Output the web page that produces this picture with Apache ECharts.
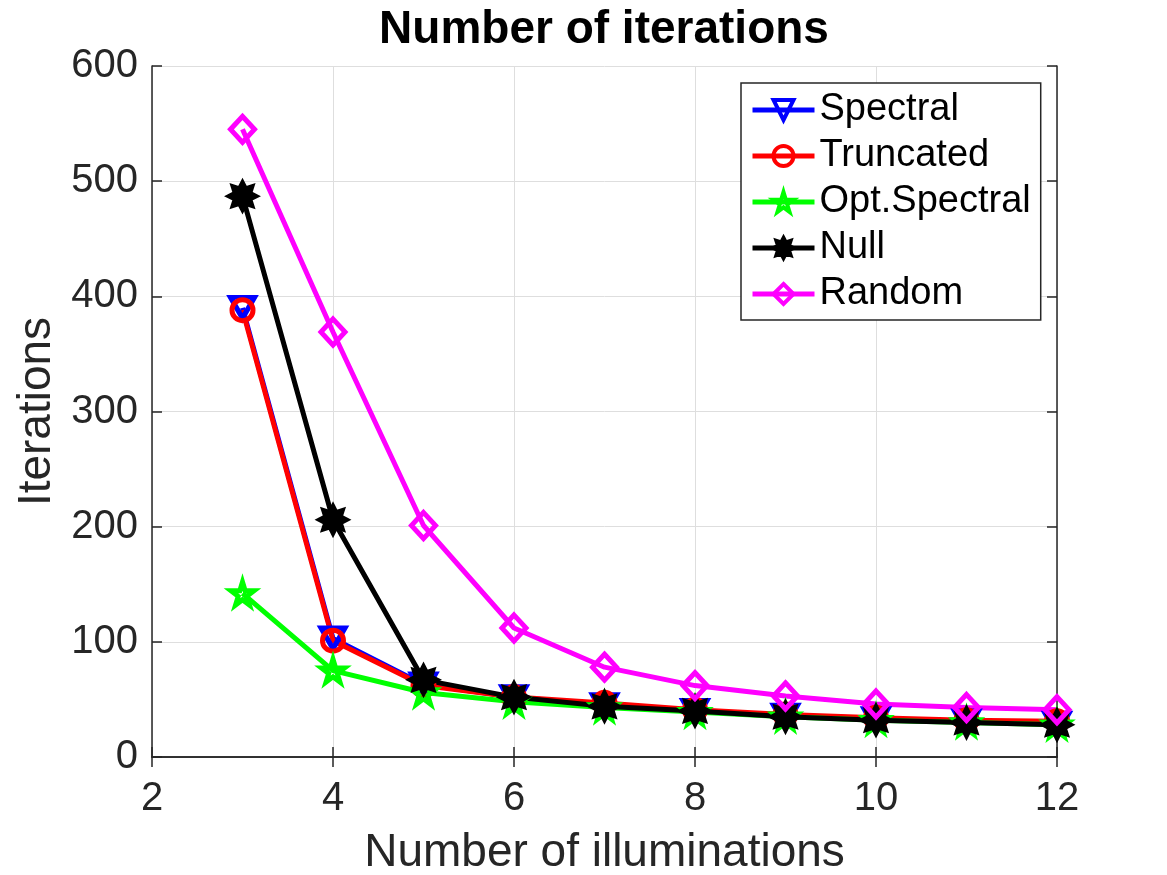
<!DOCTYPE html>
<html>
<head>
<meta charset="utf-8">
<script src="https://cdn.jsdelivr.net/npm/echarts@6/dist/echarts.min.js"></script>
<style>
html,body{margin:0;padding:0;background:#fff;overflow:hidden;}
#chart{width:1167px;height:875px;}
</style>
</head>
<body>
<div id="chart"></div>
<script>
// ---- data ----
const illuminations = [3, 4, 5, 6, 7, 8, 9, 10, 11, 12];
const spectral     = [390, 103, 63, 52, 45, 40, 36, 33, 31, 29];
const truncated    = [388, 101, 62, 52, 47, 41, 37, 34, 32, 31];
const optSpectral  = [142, 75, 56, 48, 43, 39, 35, 32, 30, 28];
const nullInit     = [487, 206, 67, 52, 44, 40, 35, 32, 30, 28];
const randomInit   = [545, 369, 201, 112, 78, 62, 53, 46, 43, 41];
const seriesNames  = ['Spectral', 'Truncated', 'Opt.Spectral', 'Null', 'Random'];
const xTicks = [2, 4, 6, 8, 10, 12];
const yTicks = [0, 100, 200, 300, 400, 500, 600];

const FONT = '"Liberation Sans", Arial, Helvetica, sans-serif';
const AX = '#262626';

const triDown = 'path://M0,0 L100,0 L50,86 Z';
const penta = 'path://M50,0 L61,35 L98,35 L68,57 L79,91 L50,70 L21,91 L32,57 L2,35 L39,35 Z';
const aster = 'path://M50,0 L61.5,22.3 L85.36,14.64 L77.7,38.5 L100,50 L77.7,61.5 L85.36,85.36 L61.5,77.7 L50,100 L38.5,77.7 L14.64,85.36 L22.3,61.5 L0,50 L22.3,38.5 L14.64,14.64 L38.5,22.3 Z';

function pairs(ys) { return illuminations.map((x, i) => [x, ys[i]]); }

function mk(name, ys, color, symbol, size, filled) {
  return {
    name: name,
    type: 'line',
    data: pairs(ys),
    symbol: symbol,
    symbolSize: size,
    showAllSymbol: true,
    lineStyle: { color: color, width: 5 },
    itemStyle: { color: filled ? color : 'rgba(255,255,255,0)', borderColor: color, borderWidth: 5 },
    emphasis: { disabled: true },
    animation: false,
    z: 3
  };
}

const chart = echarts.init(document.getElementById('chart'), null, { renderer: 'canvas', width: 1167, height: 875 });
const option = {
  backgroundColor: '#fff',
  animation: false,
  title: {
    text: 'Number of iterations',
    left: 604, top: 7, textAlign: 'center', padding: 0,
    textStyle: { fontFamily: FONT, fontSize: 46, fontWeight: 'bold', color: '#000' }
  },
  grid: { left: 152, right: 110, top: 66, bottom: 118, containLabel: false, outerBoundsMode: 'none' },
  legend: {
    orient: 'vertical',
    left: 741, top: 83,
    padding: [4, 10, 3, 9],
    itemGap: 0,
    itemWidth: 62,
    itemHeight: 25,
    backgroundColor: '#fff',
    borderColor: AX,
    borderWidth: 1.5,
    borderRadius: 0,
    data: seriesNames,
    lineStyle: { width: 5 },
    itemStyle: { borderWidth: 4 },
    textStyle: { fontFamily: FONT, fontSize: 38, color: '#000', lineHeight: 46 }
  },
  xAxis: [{
    type: 'value', min: 2, max: 12, interval: 2,
    name: 'Number of illuminations', nameLocation: 'middle', nameGap: 73,
    nameTextStyle: { fontFamily: FONT, fontSize: 46, color: AX },
    axisLine: { show: true, lineStyle: { color: AX, width: 1.5 } },
    axisTick: { show: true, inside: true, length: 10, lineStyle: { color: AX, width: 1.5 } },
    axisLabel: { fontFamily: FONT, fontSize: 40, color: AX, margin: 22,
      formatter: v => xTicks.indexOf(v) >= 0 ? String(v) : '' },
    splitLine: { show: true, lineStyle: { color: '#dedede', width: 1 } }
  }, {
    type: 'value', min: 2, max: 12, interval: 2, position: 'top',
    axisLine: { show: true, lineStyle: { color: AX, width: 1.5 } },
    axisTick: { show: true, inside: true, length: 10, lineStyle: { color: AX, width: 1.5 } },
    axisLabel: { show: false }, splitLine: { show: false }
  }],
  yAxis: [{
    type: 'value', min: 0, max: 600, interval: 100,
    name: 'Iterations', nameLocation: 'middle', nameGap: 92, nameRotate: 90,
    nameTextStyle: { fontFamily: FONT, fontSize: 46, color: AX },
    axisLine: { show: true, lineStyle: { color: AX, width: 1.5 } },
    axisTick: { show: true, inside: true, length: 10, lineStyle: { color: AX, width: 1.5 } },
    axisLabel: { fontFamily: FONT, fontSize: 40, color: AX, margin: 14,
      formatter: v => yTicks.indexOf(v) >= 0 ? String(v) : '' },
    splitLine: { show: true, lineStyle: { color: '#dedede', width: 1 } }
  }, {
    type: 'value', min: 0, max: 600, interval: 100, position: 'right',
    axisLine: { show: true, lineStyle: { color: AX, width: 1.5 } },
    axisTick: { show: true, inside: true, length: 10, lineStyle: { color: AX, width: 1.5 } },
    axisLabel: { show: false }, splitLine: { show: false }
  }],
  series: [
    mk('Spectral', spectral, '#0000ff', triDown, [24, 21], false),
    mk('Truncated', truncated, '#ff0000', 'circle', 21, false),
    mk('Opt.Spectral', optSpectral, '#00ff00', penta, 23, false),
    mk('Null', nullInit, '#000000', aster, 26, true),
    mk('Random', randomInit, '#ff00ff', 'diamond', [24, 26], false)
  ]
};
chart.setOption(option);
</script>
</body>
</html>
